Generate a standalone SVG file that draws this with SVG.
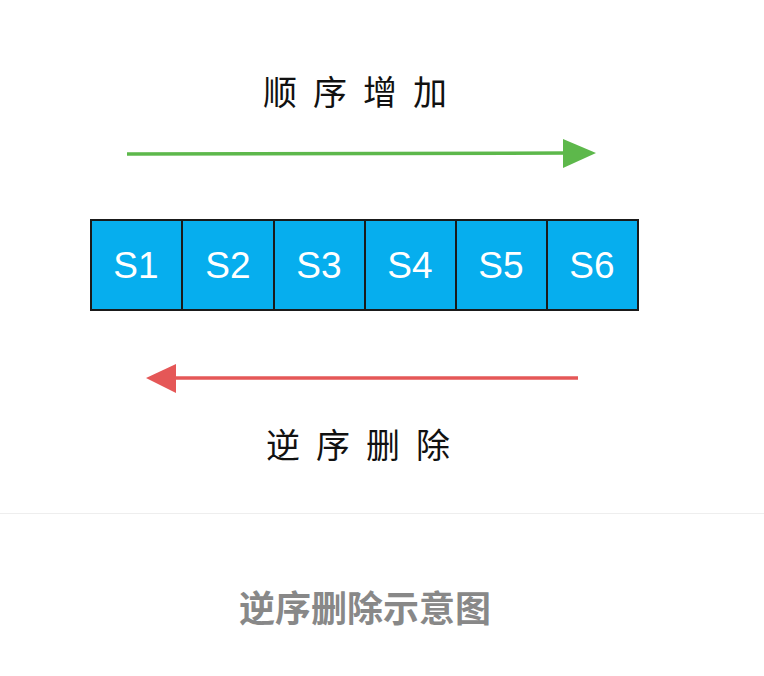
<svg xmlns="http://www.w3.org/2000/svg" width="764" height="676" viewBox="0 0 764 676">
<style>
.cell rect{fill:#06AEEE;stroke:#1a1a1a;stroke-width:2}
.cell text{font-family:"Liberation Sans","DejaVu Sans",sans-serif;font-size:37px;fill:#fff;text-anchor:middle}
.hand{font-family:"Noto Sans CJK SC",sans-serif;font-size:34px;fill:#111;text-anchor:middle;letter-spacing:16px}
.cap{font-family:"Noto Sans CJK SC",sans-serif;font-size:36px;fill:#888;font-weight:bold;text-anchor:middle}
</style>
<rect width="764" height="676" fill="#fff"/>
<text class="hand" x="363" y="105">顺序增加</text>
<g id="connectors">
<line x1="127" y1="154" x2="568" y2="153" stroke="#5DB84B" stroke-width="3.5"/>
<polygon points="563,139 596,153 563,168" fill="#5DB84B"/>
<line x1="578" y1="378" x2="172" y2="378" stroke="#E55757" stroke-width="3.5"/>
<polygon points="176,364 146,378 176,393" fill="#E55757"/>
</g>
<g id="s1" class="cell"><rect x="91" y="220" width="91" height="90"/><text x="136" y="278">S1</text></g>
<g id="s2" class="cell"><rect x="182" y="220" width="92" height="90"/><text x="228" y="278">S2</text></g>
<g id="s3" class="cell"><rect x="274" y="220" width="91" height="90"/><text x="319" y="278">S3</text></g>
<g id="s4" class="cell"><rect x="365" y="220" width="91" height="90"/><text x="410" y="278">S4</text></g>
<g id="s5" class="cell"><rect x="456" y="220" width="91" height="90"/><text x="501" y="278">S5</text></g>
<g id="s6" class="cell"><rect x="547" y="220" width="91" height="90"/><text x="592" y="278">S6</text></g>
<text class="hand" x="366" y="458">逆序删除</text>
<line x1="0" y1="513.5" x2="764" y2="513.5" stroke="#eeeeee" stroke-width="1"/>
<text class="cap" x="365" y="622">逆序删除示意图</text>
</svg>
